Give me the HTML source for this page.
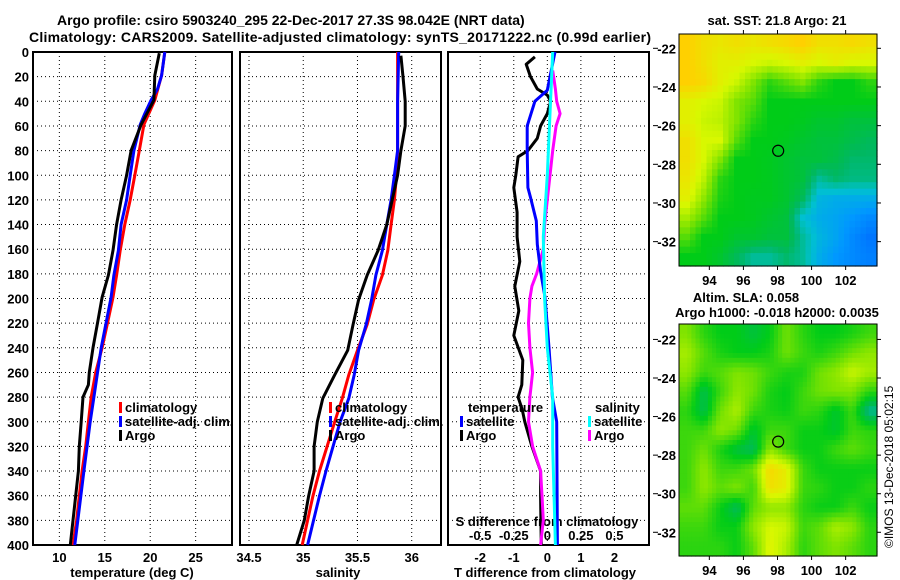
<!DOCTYPE html>
<html><head><meta charset="utf-8">
<style>
html,body{margin:0;padding:0;background:#fff;}
svg{display:block;font-family:"Liberation Sans",sans-serif;font-weight:bold;}
text{font-size:13px;fill:#000;}
</style></head>
<body>
<svg id="chart" width="900" height="580" viewBox="0 0 900 580" xmlns="http://www.w3.org/2000/svg">
<text x="57" y="25" style="font-size:14px">Argo profile: csiro 5903240_295 22-Dec-2017 27.3S 98.042E (NRT data)</text>
<text x="29" y="42" style="font-size:14px" textLength="622">Climatology: CARS2009. Satellite-adjusted climatology: synTS_20171222.nc (0.99d earlier)</text>
<text x="777" y="25" text-anchor="middle">sat. SST: 21.8 Argo: 21</text>
<text x="746" y="302" text-anchor="middle">Altim. SLA: 0.058</text>
<text x="777" y="317" text-anchor="middle">Argo h1000: -0.018 h2000: 0.0035</text>
<text transform="translate(893,548) rotate(-90)" style="font-size:12px;font-weight:normal">©IMOS 13-Dec-2018 05:02:15</text>
<g id="g"></g>
</svg>
<script>
// ---- data ----
const tempClimDepth=[0,19,39,59,80,100,120,140,161,181,199,220,240,260,280,300,320,340,360,380,400];
const tempClim=[21.6,21.25,20.5,19.3,18.8,18.3,17.8,17.2,16.7,16.3,15.9,15.3,14.7,14.0,13.5,13.2,12.9,12.5,12.2,11.9,11.5];
const tempSatDepth=[0,19,30,39,50,59,80,100,120,140,161,181,199,240,280,300,340,400];
const tempSat=[21.6,21.25,20.8,20.1,19.4,18.9,18.2,17.8,17.4,16.8,16.5,16.0,15.7,14.6,13.8,13.4,12.7,11.7];
const tempArgoDepth=[1,19,39,59,80,100,120,140,161,181,199,220,240,260,270,280,300,320,340,360,380,400];
const tempArgo=[21.0,20.5,20.4,19.0,17.9,17.4,16.8,16.3,15.9,15.4,14.7,14.2,13.7,13.3,13.2,12.6,12.4,12.2,12.1,11.8,11.5,11.2];
const salClimDepth=[0,40,80,100,120,140,161,181,201,221,242,262,281,300,340,360,400];
const salClim=[35.87,35.87,35.87,35.86,35.84,35.81,35.78,35.73,35.65,35.59,35.5,35.42,35.36,35.29,35.15,35.09,34.99];
const salSatDepth=[0,40,80,100,120,140,161,181,201,221,242,262,281,300,340,360,400];
const salSat=[35.88,35.87,35.87,35.84,35.81,35.77,35.73,35.67,35.63,35.58,35.51,35.47,35.42,35.34,35.21,35.15,35.04];
const salArgoDepth=[3,20,40,60,80,100,120,140,161,181,201,221,242,262,281,300,320,340,360,380,400];
const salArgo=[35.9,35.92,35.94,35.94,35.9,35.87,35.82,35.77,35.69,35.59,35.51,35.46,35.41,35.29,35.18,35.13,35.1,35.1,35.05,35.01,34.94];
const dTSatDepth=[0,31,40,60,80,110,118,137,156,178,199,240,280,300,400];
const dTSat=[0.23,0,-0.37,-0.6,-0.6,-0.58,-0.5,-0.33,-0.3,-0.2,-0.07,0.05,0.15,0.28,0.3];
const dTArgoDepth=[4,10,20,30,35,40,50,60,70,80,85,100,110,130,150,170,190,210,230,250,270,280,290,300,320,340,360,380,400];
const dTArgo=[-0.37,-0.63,-0.5,-0.3,0,0.1,0,-0.2,-0.3,-0.58,-0.87,-0.94,-1.0,-0.9,-0.9,-0.82,-0.97,-0.85,-1.0,-0.73,-0.76,-0.87,-0.75,-0.67,-0.46,-0.2,-0.2,-0.19,-0.18];
const dSArgoDepth=[15,30,40,50,60,80,100,120,140,160,180,190,200,220,240,260,280,300,320,340,360,380,400];
const dSArgo=[0.04,0.06,0.07,0.095,0.065,0.04,0.02,0,-0.02,-0.03,-0.08,-0.115,-0.13,-0.14,-0.13,-0.11,-0.13,-0.14,-0.11,-0.05,-0.04,-0.03,-0.05];
const dSSatDepth=[0,50,100,150,200,240,280,320,400];
const dSSat=[0.04,0.02,0,-0.03,-0.02,0,0.04,0.04,0.06];
const depthTicks=[0,20,40,60,80,100,120,140,160,180,200,220,240,260,280,300,320,340,360,380,400];
const tTicks=[10,15,20,25];
const sTicks=[34.5,35,35.5,36];
const dTTicks=[-2,-1,0,1,2];
const dSTickLabels=["-0.5","-0.25","0","0.25","0.5"];
const dSTicks=[-0.5,-0.25,0,0.25,0.5];
const latTicks=[-22,-24,-26,-28,-30,-32];
const lonTicks=[94,96,98,100,102];
const sstGrid=[
[.85,.8,.78,.8,.78,.8,.82,.85,.8,.8,.82,.8],
[.85,.8,.75,.75,.72,.7,.72,.75,.72,.75,.72,.72],
[.85,.82,.75,.7,.6,.5,.55,.6,.5,.45,.45,.5],
[.75,.72,.7,.6,.55,.45,.45,.45,.45,.45,.45,.45],
[.75,.7,.68,.6,.5,.45,.45,.44,.42,.42,.4,.4],
[.8,.72,.72,.55,.45,.45,.44,.42,.4,.4,.38,.36],
[.8,.72,.6,.45,.45,.44,.42,.4,.4,.38,.34,.34],
[.78,.68,.5,.45,.45,.44,.42,.4,.3,.34,.32,.32],
[.75,.62,.48,.45,.44,.44,.42,.36,.22,.2,.2,.2],
[.65,.55,.45,.45,.44,.42,.4,.25,.2,.18,.15,.12],
[.55,.45,.45,.42,.42,.4,.4,.3,.22,.18,.12,.08],
[.45,.45,.42,.36,.3,.3,.34,.3,.2,.15,.12,.1]];
const slaGrid=[
[.6,.5,.45,.45,.4,.45,.58,.5,.45,.45,.48,.52],
[.65,.55,.48,.45,.45,.48,.58,.52,.48,.52,.58,.62],
[.62,.52,.55,.6,.58,.52,.48,.48,.58,.62,.7,.65],
[.55,.38,.52,.62,.58,.48,.45,.52,.58,.6,.6,.5],
[.5,.38,.58,.66,.52,.48,.46,.52,.5,.42,.52,.3],
[.52,.52,.62,.58,.42,.52,.52,.46,.46,.42,.52,.5],
[.52,.58,.48,.4,.36,.62,.52,.46,.46,.52,.56,.52],
[.52,.62,.52,.52,.58,.82,.76,.52,.46,.46,.46,.46],
[.52,.62,.56,.6,.52,.8,.76,.52,.5,.46,.46,.5],
[.56,.56,.46,.36,.56,.62,.62,.5,.46,.46,.52,.46],
[.52,.52,.46,.46,.62,.72,.7,.52,.56,.66,.62,.5],
[.5,.5,.5,.46,.56,.74,.66,.5,.56,.6,.56,.5]];
const argoLon=98.04, argoLat=-27.3;

// ---- helpers ----
const NS="http://www.w3.org/2000/svg";
const G=document.getElementById('g');
function mk(tag,at,parent){const e=document.createElementNS(NS,tag);for(const k in at)e.setAttribute(k,at[k]);(parent||G).appendChild(e);return e;}
const yD=d=>52+d*1.2325;
const panels=[
 {x0:33,x1:232,v0:7.1,v1:29.0,ticks:tTicks,name:'temperature'},
 {x0:240,x1:441,v0:34.417,v1:36.27,ticks:sTicks,name:'salinity'},
 {x0:448,x1:649,v0:-2.96,v1:3.03,ticks:dTTicks,name:'difference'}];
panels.forEach(p=>{p.f=v=>p.x0+(v-p.v0)/(p.v1-p.v0)*(p.x1-p.x0);});
const xT=panels[0].f, xS=panels[1].f, xDT=panels[2].f, xDS=v=>xDT(v*4);

panels.forEach(p=>{
  const grid=mk('g',{});
  
  
  depthTicks.slice(1,-1).forEach(d=>mk('line',{x1:p.x0,x2:p.x1,y1:yD(d),y2:yD(d),stroke:'#000','stroke-width':1,'stroke-dasharray':'1,3'},grid));
  p.ticks.forEach(v=>mk('line',{x1:p.f(v),x2:p.f(v),y1:yD(0),y2:yD(400),stroke:'#000','stroke-width':1,'stroke-dasharray':'1,3'},grid));
  const fr=mk('rect',{x:p.x0,y:yD(0),width:p.x1-p.x0,height:yD(400)-yD(0),fill:'none',stroke:'#000','stroke-width':2});
  
  
  if(p.name!=='difference'){
    p.ticks.forEach(v=>{const t=mk('text',{x:p.f(v),y:562,'text-anchor':'middle'});t.textContent=String(v);
      
      });
  }
});
dTTicks.forEach(v=>{const t=mk('text',{x:xDT(v),y:562,'text-anchor':'middle'});t.textContent=String(v);
  
  });
dSTicks.forEach((v,i)=>{const t=mk('text',{x:xDS(v),y:540,'text-anchor':'middle'});t.textContent=dSTickLabels[i];
  
  });
depthTicks.forEach(d=>{const t=mk('text',{x:29,y:yD(d)+5,'text-anchor':'end'});t.textContent=String(d);
  
  });
[['x-axis-title-temperature',132,'temperature (deg C)'],['x-axis-title-salinity',338,'salinity'],['x-axis-title-t-diff',545,'T difference from climatology']].forEach(a=>{
  const t=mk('text',{x:a[1],y:577,'text-anchor':'middle'});t.textContent=a[2];
  
  });
const sdt=mk('text',{x:547,y:526,'text-anchor':'middle'});sdt.textContent='S difference from climatology';



function line(ds,vs,fx,color,name,w){
  const pts=ds.map((d,i)=>fx(vs[i]).toFixed(1)+','+yD(d).toFixed(1)).join(' ');
  const e=mk('polyline',{points:pts,fill:'none',stroke:color,'stroke-width':w||3,'stroke-linejoin':'round'});
  
  
}
line(tempClimDepth,tempClim,xT,'#ff0000','temp-climatology-line');
line(tempSatDepth,tempSat,xT,'#0000ff','temp-satellite-line');
line(tempArgoDepth,tempArgo,xT,'#000','temp-argo-line');
line(salClimDepth,salClim,xS,'#ff0000','sal-climatology-line');
line(salSatDepth,salSat,xS,'#0000ff','sal-satellite-line');
line(salArgoDepth,salArgo,xS,'#000','sal-argo-line');
line(dTArgoDepth,dTArgo,xDT,'#000','t-diff-argo-line');
line(dSArgoDepth,dSArgo,xDS,'#ff00ff','s-diff-argo-line');
line(dTSatDepth,dTSat,xDT,'#0000ff','t-diff-satellite-line');
line(dSSatDepth,dSSat,xDS,'#00ffff','s-diff-satellite-line');

function legend(x,y,color,label,name){
  const g=mk('g',{});
  
  
  mk('rect',{x:x,y:y-10,width:3,height:11,fill:color},g);
  const t=mk('text',{x:x+6,y:y},g);t.textContent=label;
}
legend(119,412,'#ff0000','climatology','legend-temp-climatology');
legend(119,426,'#0000ff','satellite-adj. clim.','legend-temp-satellite');
legend(119,440,'#000','Argo','legend-temp-argo');
legend(329,412,'#ff0000','climatology','legend-sal-climatology');
legend(329,426,'#0000ff','satellite-adj. clim.','legend-sal-satellite');
legend(329,440,'#000','Argo','legend-sal-argo');
const lt=mk('text',{x:468,y:412});lt.textContent='temperature';


const ls=mk('text',{x:595,y:412});ls.textContent='salinity';


legend(460,426,'#0000ff','satellite','legend-t-diff-satellite');
legend(460,440,'#000','Argo','legend-t-diff-argo');
legend(588,426,'#00ffff','satellite','legend-s-diff-satellite');
legend(588,440,'#ff00ff','Argo','legend-s-diff-argo');

// ---- maps ----
const cstops=[[0,[0,80,255]],[.15,[0,152,255]],[.25,[0,192,208]],[.35,[0,184,96]],[.45,[0,204,24]],[.6,[128,228,0]],[.72,[216,248,0]],[.85,[255,208,0]],[1,[255,144,0]]];
function cmap(v){for(let i=1;i<cstops.length;i++){if(v<=cstops[i][0]){const a=cstops[i-1],b=cstops[i],t=(v-a[0])/(b[0]-a[0]);
  return 'rgb('+a[1].map((c,k)=>Math.round(c+(b[1][k]-c)*t)).join(',')+')';}}return 'rgb(255,144,0)';}
function sample(grid,r,c){
  const nr=grid.length,nc=grid[0].length;
  r=Math.max(0,Math.min(nr-1,r));c=Math.max(0,Math.min(nc-1,c));
  const r0=Math.floor(r),c0=Math.floor(c),r1=Math.min(nr-1,r0+1),c1=Math.min(nc-1,c0+1),fr=r-r0,fc=c-c0;
  return grid[r0][c0]*(1-fr)*(1-fc)+grid[r0][c1]*(1-fr)*fc+grid[r1][c0]*fr*(1-fc)+grid[r1][c1]*fr*fc;
}
function map(grid,x0,x1,y0,y1,lat0,lat1,name,sub){
  const lon0=92.22,lon1=103.84;
  const fx=lo=>x0+(lo-lon0)/(lon1-lon0)*(x1-x0);
  const fy=la=>y0+(lat0-la)/(lat0-lat1)*(y1-y0);
  const g=mk('g',{});
  
  
  const nr=grid.length*sub,nc=grid[0].length*sub,cw=(x1-x0)/nc,ch=(y1-y0)/nr;
  for(let r=0;r<nr;r++)for(let c=0;c<nc;c++){
    const v=sample(grid,(r+0.5)/sub-0.5,(c+0.5)/sub-0.5);
    mk('rect',{x:(x0+c*cw).toFixed(2),y:(y0+r*ch).toFixed(2),width:(cw+0.6).toFixed(2),height:(ch+0.6).toFixed(2),fill:cmap(v)},g);}
  mk('rect',{x:x0,y:y0,width:x1-x0,height:y1-y0,fill:'none',stroke:'#000','stroke-width':1},g);
  latTicks.forEach(la=>{const y=fy(la);
    mk('line',{x1:653,x2:658,y1:y,y2:y,stroke:'#000'},g);
    mk('line',{x1:x1,x2:x1+4,y1:y,y2:y,stroke:'#000'},g);
    const t=mk('text',{x:676,y:y+5,'text-anchor':'end'},g);t.textContent=String(la);});
  lonTicks.forEach(lo=>{const x=fx(lo);
    mk('line',{x1:x,x2:x,y1:y0-4,y2:y0,stroke:'#000'},g);
    mk('line',{x1:x,x2:x,y1:y1,y2:y1+4,stroke:'#000'},g);
    const t=mk('text',{x:x,y:y1+19,'text-anchor':'middle'},g);t.textContent=String(lo);});
  const c=mk('circle',{cx:fx(argoLon),cy:fy(argoLat),r:5.5,fill:'none',stroke:'#000','stroke-width':1.2});
  
  
}
map(sstGrid,679,877,34,266,-21.26,-33.26,'sst-map',3);
map(slaGrid,679,877,324,556,-21.2,-33.23,'sla-map',4);
</script>
</body></html>
